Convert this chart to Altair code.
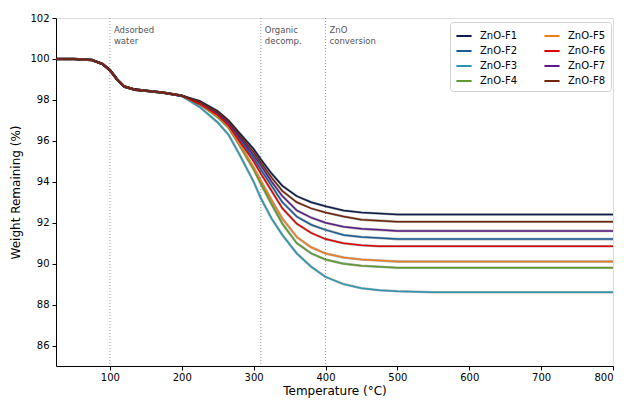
import altair as alt
import pandas as pd

# Temperature grid (°C)
temps = [25, 50, 75, 90, 100, 110, 120, 135, 150, 175, 200, 225, 250, 265, 280,
         300, 310, 325, 340, 360, 380, 400, 425, 450, 475, 500, 550, 600, 700, 800]

# shared early part (25..200)
early = [100.0, 100.0, 99.95, 99.75, 99.45, 99.0, 98.65, 98.5, 98.45, 98.35, 98.2]

f1 = early + [97.95, 97.45, 97.0, 96.4, 95.6, 95.1, 94.4, 93.8, 93.3, 93.0, 92.8, 92.6, 92.5, 92.45, 92.4, 92.4, 92.4, 92.4, 92.4]
f8 = early + [97.9, 97.4, 96.95, 96.3, 95.45, 94.95, 94.2, 93.55, 93.0, 92.7, 92.5, 92.3, 92.15, 92.1, 92.05, 92.05, 92.05, 92.05, 92.05]
f7 = early + [97.9, 97.35, 96.9, 96.2, 95.3, 94.8, 94.0, 93.3, 92.6, 92.25, 92.0, 91.8, 91.7, 91.65, 91.6, 91.6, 91.6, 91.6, 91.6]
f2 = early + [97.85, 97.3, 96.85, 96.1, 95.15, 94.6, 93.8, 93.0, 92.3, 91.9, 91.65, 91.4, 91.3, 91.25, 91.2, 91.2, 91.2, 91.2, 91.2]
f6 = early + [97.8, 97.25, 96.75, 96.0, 95.0, 94.4, 93.55, 92.7, 91.95, 91.5, 91.2, 91.0, 90.9, 90.85, 90.85, 90.85, 90.85, 90.85, 90.85]
f5 = early + [97.8, 97.2, 96.7, 95.85, 94.7, 94.05, 93.1, 92.2, 91.3, 90.8, 90.5, 90.3, 90.2, 90.15, 90.1, 90.1, 90.1, 90.1, 90.1]
f4 = early + [97.8, 97.15, 96.65, 95.8, 94.6, 93.9, 92.9, 91.95, 91.0, 90.5, 90.2, 90.0, 89.9, 89.85, 89.8, 89.8, 89.8, 89.8, 89.8]
f3 = early + [97.65, 96.9, 96.3, 95.35, 94.0, 93.2, 92.2, 91.4, 90.5, 89.85, 89.35, 89.0, 88.8, 88.7, 88.65, 88.6, 88.6, 88.6, 88.6]

names = ["ZnO-F1", "ZnO-F2", "ZnO-F3", "ZnO-F4", "ZnO-F5", "ZnO-F6", "ZnO-F7", "ZnO-F8"]
series = [f1, f2, f3, f4, f5, f6, f7, f8]
colors = ["#0c1d4a", "#1b5f96", "#2b97b0", "#5e9a2c", "#ee7d1e", "#e00000", "#5a1c86", "#70260a"]

rows = []
for n, s in zip(names, series):
    for t, v in zip(temps, s):
        rows.append({"Temperature": t, "Weight": v, "Sample": n})
df = pd.DataFrame(rows)

ann_x = [100, 310, 400]
ann_text = ["Adsorbed\nwater", "Organic\ndecomp.", "ZnO\nconversion"]
ann_df = pd.DataFrame({"x": ann_x, "label": ann_text})

xscale = alt.Scale(domain=[25, 800], nice=False, zero=False)
yscale = alt.Scale(domain=[85, 102], nice=False, zero=False)

xaxis = alt.Axis(values=[100, 200, 300, 400, 500, 600, 700, 800], title="Temperature (°C)",
                 grid=False, domainColor="black", tickColor="black", tickSize=4,
                 labelFont="DejaVu Sans", labelFontSize=10, labelColor="black",
                 titleFont="DejaVu Sans", titleFontSize=12, titleFontWeight="normal",
                 titleColor="black", titlePadding=3, labelPadding=2)
yaxis = alt.Axis(values=[86, 88, 90, 92, 94, 96, 98, 100, 102], title="Weight Remaining (%)",
                 grid=False, domainColor="black", tickColor="black", tickSize=4,
                 labelFont="DejaVu Sans", labelFontSize=10, labelColor="black",
                 titleFont="DejaVu Sans", titleFontSize=12, titleFontWeight="normal",
                 titleColor="black", titlePadding=7, labelPadding=3)

base = alt.Chart(df)

outline = base.mark_line(strokeWidth=2.6, opacity=0.3, color="black").encode(
    x=alt.X("Temperature:Q", scale=xscale, axis=xaxis),
    y=alt.Y("Weight:Q", scale=yscale, axis=yaxis),
    detail="Sample:N",
)

lines = base.mark_line(strokeWidth=1.5).encode(
    x=alt.X("Temperature:Q", scale=xscale),
    y=alt.Y("Weight:Q", scale=yscale),
    color=alt.Color("Sample:N", scale=alt.Scale(domain=names, range=colors),
                    legend=alt.Legend(title=None, orient="none", legendX=394, legendY=4,
                                      columns=2, symbolType="stroke", symbolStrokeWidth=2,
                                      symbolSize=230, labelFont="DejaVu Sans", labelFontSize=10,
                                      labelColor="black", fillColor="white",
                                      strokeColor="#d0d0d0", padding=5, cornerRadius=3,
                                      rowPadding=1, columnPadding=22, labelLimit=80,
                                      labelOffset=7)),
)

rules = alt.Chart(ann_df).mark_rule(color="#999999", strokeDash=[1, 2], strokeWidth=1).encode(
    x=alt.X("x:Q", scale=xscale),
)

texts = alt.Chart(ann_df).mark_text(align="left", baseline="top", dx=4, fontSize=8.5,
                                    font="DejaVu Sans", color="#555555", lineBreak="\n",
                                    lineHeight=11).encode(
    x=alt.X("x:Q", scale=xscale),
    y=alt.value(8),
    text="label:N",
)

chart = alt.layer(rules, outline, lines, texts).properties(
    width=557, height=348,
    autosize=alt.AutoSizeParams(type="none"),
    padding={"left": 56, "top": 18, "right": 11, "bottom": 37},
).configure_view(stroke=None).configure(background="white")

chart.save("out.html", embed_options={"renderer": "svg", "actions": False})
